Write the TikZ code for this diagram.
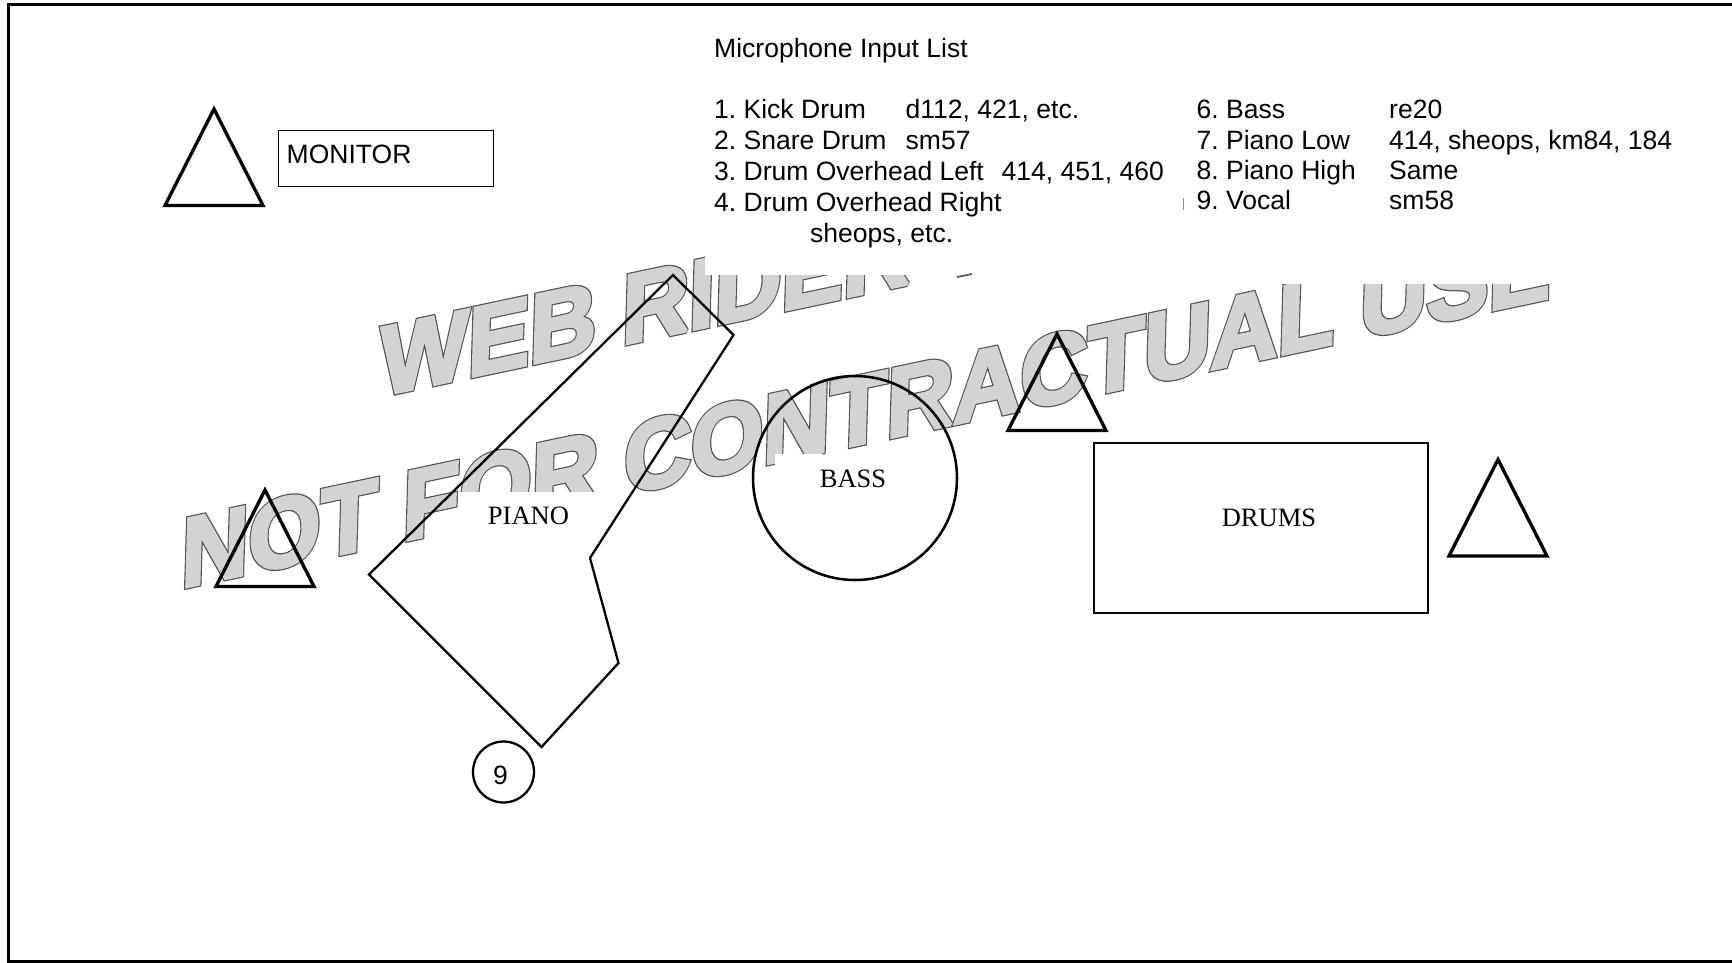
\documentclass[tikz,border=0pt]{standalone}
\usepackage{xcolor}
\usepackage{fontspec}
\usepackage{tikz}
\usetikzlibrary{positioning}
\setmainfont{Liberation Sans}
\newfontfamily\serifface{Liberation Serif}
\definecolor{wmfill}{HTML}{D3D3D3}
\definecolor{wmedge}{HTML}{595959}
\newcommand{\outlined}[1]{\rlap{\special{pdf:code 2 Tr 0 j 2 M 1.7 w 0.33 G}#1}\special{pdf:code 2 Tr 0 j 2 M 1 w 0.827 G}#1\special{pdf:code 0 Tr 10 M}}
\tikzset{
    listtext/.style={anchor=base west, inner sep=0pt, font=\fontsize{7.54pt}{9pt}\selectfont},
    stagetext/.style={inner sep=0pt, font=\fontsize{7.54pt}{9pt}\selectfont\serifface},
    watermark/.style={anchor=base west, inner sep=0pt, text=wmfill, transform shape,
        font=\fontsize{28pt}{32pt}\selectfont\bfseries},
    stageline/.style={draw=black, line width=0.65pt},
    miclegs/.style={draw=black, line width=0.95pt, line join=miter},
    mictri/.pic={\draw[miclegs] (0,0) -- (-49,96.5) -- (49,96.5) -- cycle;}
}
\frenchspacing

\begin{document}
\begin{tikzpicture}[x=0.01cm, y=-0.01cm]
    \useasboundingbox (0,0) rectangle (1732,963);

    \node[watermark, cm={0.94,0.1993,0.03,1,(379,396)}] (wmtop){\outlined{WEB RIDER}};
    \node[watermark, cm={0.941,0.1995,0.03,1,(180,588)}] (wmbottom){\outlined{NOT FOR CONTRACTUAL USE}};

    \fill[white] (705,0) rectangle (1183,275);
    \fill[white] (1183,0) rectangle (1732,284);
    \fill[white] (459,492) rectangle (600,545);
    \fill[white] (775,454) rectangle (823,500);
    \draw[wmedge, line width=0.5pt] (957,277) -- (972,274);
    \draw[black!45, line width=0.25pt] (1183.5,198) -- (1183.5,210);

    \draw[black, line width=0.85pt] (1740,4.5) -- (8.5,4.5) -- (8.5,961.5) -- (1740,961.5);

    \pic at (214,109) {mictri};
    \pic at (265,490) {mictri};
    \pic at (1057,334) {mictri};
    \pic at (1498,459.5) {mictri};

    \node[draw=black, line width=0.3pt, minimum width=2.15cm, minimum height=0.56cm,
          inner sep=0pt, anchor=north west] (monitorbox) at (278,130) {};
    \node[listtext] (monitor) at (286,163) {MONITOR};

    \node[listtext] (listhead) at (713.5,57) {Microphone Input List};
    \node[listtext] (kick) at (713.5,118.5) {1. Kick Drum};
    \node[listtext] (kickmic) at (905,118.5) {d112, 421, etc.};
    \node[listtext] (snare) at (713.5,149.5) {2. Snare Drum};
    \node[listtext] (snaremic) at (905,149.5) {sm57};
    \node[listtext] (ohleft) at (713.5,180.5) {3. Drum Overhead Left};
    \node[listtext] (ohleftmic) at (1001,180.5) {414, 451, 460};
    \node[listtext] (ohright) at (713.5,211.5) {4. Drum Overhead Right};
    \node[listtext] (ohrightmic) at (809.5,242.5) {sheops, etc.};

    \node[listtext] (bass) at (1196,118) {6. Bass};
    \node[listtext] (bassmic) at (1388.5,118) {re20};
    \node[listtext] (pianolow) at (1196,149) {7. Piano Low};
    \node[listtext] (pianolowmic) at (1388.5,149) {414, sheops, km84, 184};
    \node[listtext] (pianohigh) at (1196,179) {8. Piano High};
    \node[listtext] (pianohighmic) at (1388.5,179) {Same};
    \node[listtext] (vocal) at (1196,209) {9. Vocal};
    \node[listtext] (vocalmic) at (1388.5,209) {sm58};

    \draw[stageline] (673,275) -- (733.5,335) -- (590,558) -- (618.5,663) -- (541.5,747) -- (369,574.5) -- cycle;
    \node[stagetext] (piano) at (528.5,516) {PIANO};

    \draw[stageline, line width=0.72pt] (855,478) circle (102);
    \node[stagetext] (bassamp) at (853,479) {BASS};

    \draw[black, line width=0.78pt] (1094,443) rectangle (1428,613);
    \node[stagetext] (drums) at (1269,518) {DRUMS};

    \draw[stageline] (503.5,772) circle (30.5);
    \node[listtext, anchor=center] (nine) at (500.5,775) {9};
\end{tikzpicture}
\end{document}
